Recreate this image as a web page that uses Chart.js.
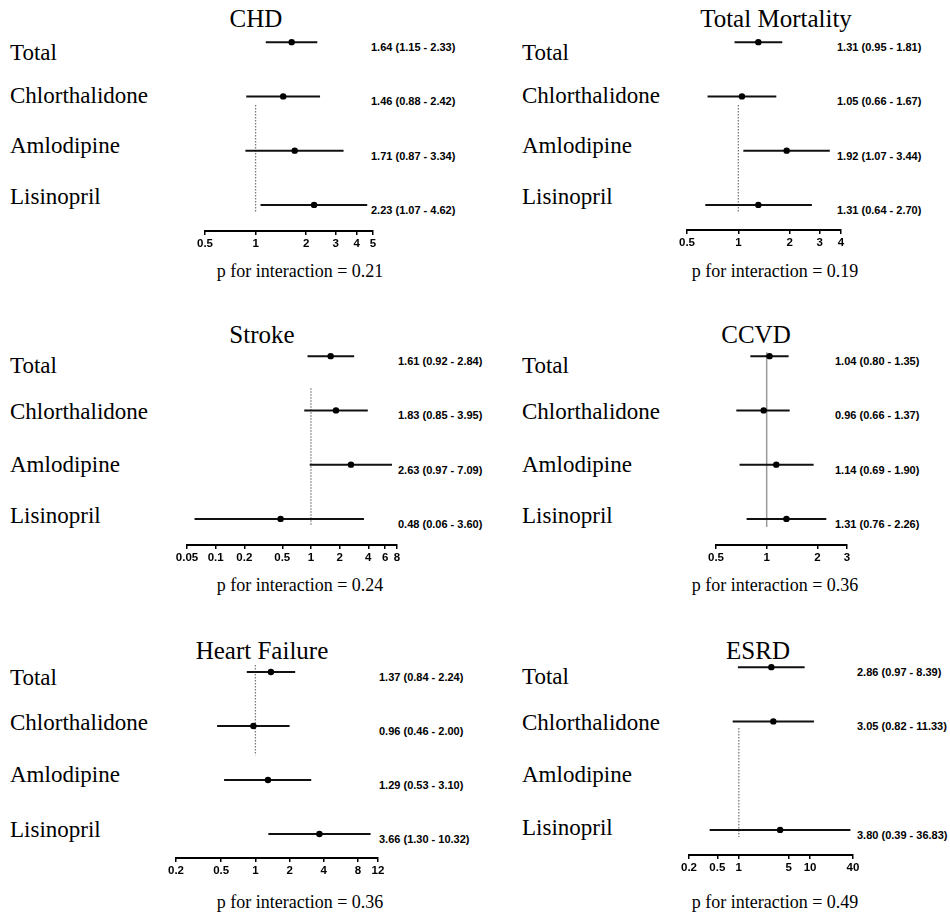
<!DOCTYPE html>
<html>
<head>
<meta charset="utf-8">
<script src="https://cdn.jsdelivr.net/npm/chart.js@4.4.1/dist/chart.umd.min.js"></script>
<style>
  html, body { margin: 0; padding: 0; background: #fff; }
  #page { position: relative; width: 950px; height: 923px; overflow: hidden; }
  .panel-canvas { position: absolute; }
  .txt { position: absolute; white-space: nowrap; line-height: 1; transform: translateY(-50%); color: #000; }
  .serif { font-family: "Liberation Serif", "Times New Roman", serif; }
  .title { font-size: 25px; transform: translate(-50%, -50%); }
  .row-label { font-size: 23px; }
  .ptext { font-size: 18px; transform: translate(-50%, -50%); }
  .ci { font-family: "Liberation Sans", Arial, sans-serif; font-weight: bold; font-size: 11px; }
</style>
</head>
<body>
<div id="page"></div>
<script>
// Forest plots: hazard ratios by treatment arm
const groups = ['Total', 'Chlorthalidone', 'Amlodipine', 'Lisinopril'];

const chdEst = [1.64, 1.46, 1.71, 2.23];
const chdLo = [1.15, 0.88, 0.87, 1.07];
const chdHi = [2.33, 2.42, 3.34, 4.62];
const chdTicks = [0.5, 1, 2, 3, 4, 5];

const mortEst = [1.31, 1.05, 1.92, 1.31];
const mortLo = [0.95, 0.66, 1.07, 0.64];
const mortHi = [1.81, 1.67, 3.44, 2.70];
const mortTicks = [0.5, 1, 2, 3, 4];

const strokeEst = [1.61, 1.83, 2.63, 0.48];
const strokeLo = [0.92, 0.85, 0.97, 0.06];
const strokeHi = [2.84, 3.95, 7.09, 3.60];
const strokeTicks = [0.05, 0.1, 0.2, 0.5, 1, 2, 4, 6, 8];

const ccvdEst = [1.04, 0.96, 1.14, 1.31];
const ccvdLo = [0.80, 0.66, 0.69, 0.76];
const ccvdHi = [1.35, 1.37, 1.90, 2.26];
const ccvdTicks = [0.5, 1, 2, 3];

const hfEst = [1.37, 0.96, 1.29, 3.66];
const hfLo = [0.84, 0.46, 0.53, 1.30];
const hfHi = [2.24, 2.00, 3.10, 10.32];
const hfTicks = [0.2, 0.5, 1, 2, 4, 8, 12];

const esrdEst = [2.86, 3.05, null, 3.80];
const esrdLo = [0.97, 0.82, null, 0.39];
const esrdHi = [8.39, 11.33, null, 36.83];
const esrdTicks = [0.2, 0.5, 1, 5, 10, 40];

const pValues = ['0.21', '0.19', '0.24', '0.36', '0.36', '0.49'];

// layout of each panel (pixels on the page)
const panels = [
    { title: 'CHD', est: chdEst, lo: chdLo, hi: chdHi, ticks: chdTicks, p: pValues[0],
      x0: 205, x1: 373, y0: 42, gap: 54.3, axisY: 231, ciX: 371, labX: 10,
      labY: [52, 95, 145, 196], titleX: 256, titleY: 18, pX: 300, pY: 271,
      ref: [1.16, 3.13], refSolid: false },
    { title: 'Total Mortality', est: mortEst, lo: mortLo, hi: mortHi, ticks: mortTicks, p: pValues[1],
      x0: 687, x1: 841, y0: 42, gap: 54.3, axisY: 230, ciX: 837, labX: 522,
      labY: [52, 95, 145, 196], titleX: 776, titleY: 18, pX: 775, pY: 271,
      ref: [1.16, 3.13], refSolid: false },
    { title: 'Stroke', est: strokeEst, lo: strokeLo, hi: strokeHi, ticks: strokeTicks, p: pValues[2],
      x0: 187, x1: 397, y0: 356, gap: 54.3, axisY: 545, ciX: 398, labX: 10,
      labY: [365, 411, 464, 515], titleX: 262, titleY: 334, pX: 300, pY: 585,
      ref: [0.59, 3.11], refSolid: false },
    { title: 'CCVD', est: ccvdEst, lo: ccvdLo, hi: ccvdHi, ticks: ccvdTicks, p: pValues[3],
      x0: 716, x1: 847, y0: 356, gap: 54.3, axisY: 545, ciX: 835, labX: 522,
      labY: [365, 411, 464, 515], titleX: 756, titleY: 334, pX: 775, pY: 585,
      ref: [-0.07, 3.15], refSolid: true },
    { title: 'Heart Failure', est: hfEst, lo: hfLo, hi: hfHi, ticks: hfTicks, p: pValues[4],
      x0: 176, x1: 378, y0: 672, gap: 54, axisY: 858, ciX: 379, labX: 10,
      labY: [677, 722, 774, 829], titleX: 262, titleY: 650, pX: 300, pY: 902,
      ref: [-0.13, 1.54], refSolid: false },
    { title: 'ESRD', est: esrdEst, lo: esrdLo, hi: esrdHi, ticks: esrdTicks, p: pValues[5],
      x0: 689, x1: 853, y0: 667, gap: 54.3, axisY: 855, ciX: 857, labX: 522,
      labY: [676, 722, 774, 827], titleX: 758, titleY: 650, pX: 775, pY: 902,
      ref: [1.12, 3.13], refSolid: false }
];

const page = document.getElementById('page');

function addText(cls, text, x, y) {
    const d = document.createElement('div');
    d.className = 'txt ' + cls;
    d.textContent = text;
    d.style.left = x + 'px';
    d.style.top = y + 'px';
    page.appendChild(d);
}

const PAD_X = 20, PAD_TOP = 4, AXIS_H = 24;

panels.forEach((p) => {
    // texts
    addText('serif title', p.title, p.titleX, p.titleY);
    addText('serif ptext', 'p for interaction = ' + p.p, p.pX, p.pY);
    groups.forEach((g, i) => {
        addText('serif row-label', g, p.labX, p.labY[i]);
        if (p.est[i] != null) {
            const ci = p.est[i].toFixed(2) + ' (' + p.lo[i].toFixed(2) + ' - ' + p.hi[i].toFixed(2) + ')';
            addText('ci', ci, p.ciX, p.y0 + i * p.gap + 5);
        }
    });

    // canvas
    const chartTop = p.y0 - 0.5 * p.gap;
    const canvasTop = chartTop - PAD_TOP;
    const canvas = document.createElement('canvas');
    canvas.className = 'panel-canvas';
    canvas.width = (p.x1 - p.x0) + 2 * PAD_X;
    canvas.height = Math.round(p.axisY - canvasTop + AXIS_H);
    canvas.style.left = (p.x0 - PAD_X) + 'px';
    canvas.style.top = canvasTop + 'px';
    page.appendChild(canvas);

    const datasets = [];
    p.est.forEach((v, i) => {
        if (v == null) return;
        datasets.push({
            data: [{ x: p.lo[i], y: i }, { x: p.hi[i], y: i }],
            showLine: true,
            borderColor: '#111',
            borderWidth: 2,
            pointRadius: 0,
            order: 2
        });
    });
    datasets.push({
        data: p.est.map((v, i) => v == null ? null : { x: v, y: i }).filter(Boolean),
        showLine: false,
        pointRadius: 3.2,
        pointBackgroundColor: '#000',
        pointBorderWidth: 0,
        order: 1
    });
    datasets.push({
        data: [{ x: 1, y: p.ref[0] }, { x: 1, y: p.ref[1] }],
        showLine: true,
        borderColor: p.refSolid ? '#9a9a9a' : '#7a7a7a',
        borderWidth: p.refSolid ? 1.5 : 1.3,
        borderDash: p.refSolid ? [] : [1.5, 1.5],
        pointRadius: 0,
        order: 3
    });

    const yMax = 3 + (p.axisY - (p.y0 + 3 * p.gap)) / p.gap;

    new Chart(canvas.getContext('2d'), {
        type: 'scatter',
        data: { datasets: datasets },
        options: {
            responsive: false,
            animation: false,
            events: [],
            layout: { padding: { left: PAD_X, right: PAD_X, top: PAD_TOP, bottom: 0 } },
            plugins: { legend: { display: false }, tooltip: { enabled: false } },
            scales: {
                x: {
                    type: 'logarithmic',
                    min: p.ticks[0],
                    max: p.ticks[p.ticks.length - 1],
                    afterBuildTicks: (s) => { s.ticks = p.ticks.map(v => ({ value: v })); },
                    afterFit: (s) => { s.height = AXIS_H; },
                    grid: { display: true, drawOnChartArea: false, drawTicks: true, tickLength: 4, color: '#000', lineWidth: 1.5 },
                    border: { display: true, color: '#000', width: 2 },
                    ticks: {
                        color: '#000',
                        font: { family: 'Liberation Sans', weight: 'bold', size: 11.5 },
                        padding: 2,
                        autoSkip: false,
                        maxRotation: 0,
                        callback: (v) => String(v)
                    }
                },
                y: { type: 'linear', display: false, reverse: true, min: -0.5, max: yMax }
            }
        }
    });
});
</script>
</body>
</html>
